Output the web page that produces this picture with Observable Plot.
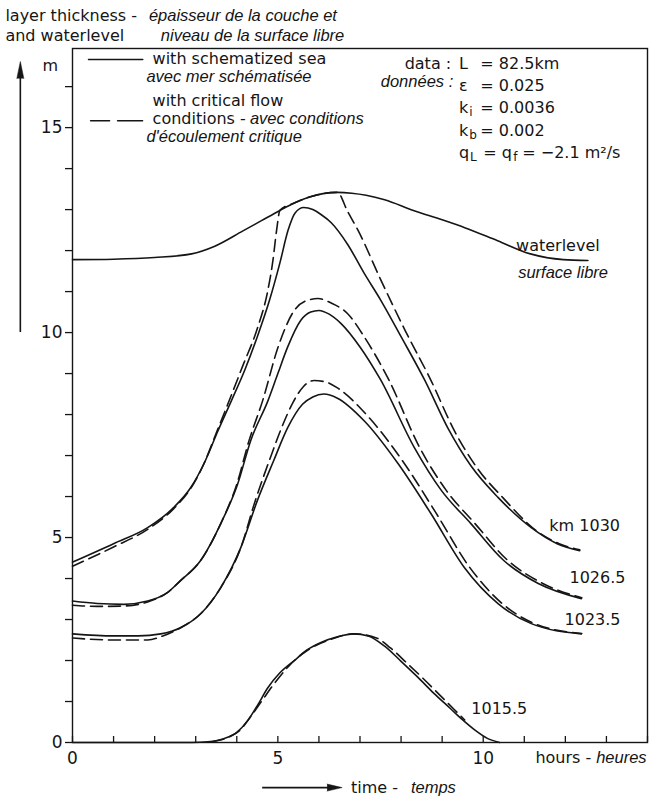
<!DOCTYPE html>
<html>
<head>
<meta charset="utf-8">
<script src="https://cdn.jsdelivr.net/npm/d3@7"></script>
<script src="https://cdn.jsdelivr.net/npm/@observablehq/plot@0.6"></script>
<style>
  html, body { margin: 0; padding: 0; background: #fff; }
  #chart svg { display: block; }
</style>
</head>
<body>
<div id="chart"></div>
<script>
// ---- data (hours, metres) ----
const yTicks = d3.range(0, 17);
const yLabelTicks = [0, 5, 10, 15];
const hourTicks = d3.range(0, 15);
const xLabelTicks = [0, 5, 10];

const wlHours = [0, 1.0, 2.0, 2.9, 3.45, 4.15, 4.6, 5.05, 5.4, 5.75, 6.1, 6.45, 6.8, 7.15, 7.6, 8.3, 9.0, 9.55, 10.35, 11.15, 11.95, 12.55];
const wlLevel = [11.78, 11.79, 11.83, 11.92, 12.1, 12.48, 12.73, 12.98, 13.16, 13.3, 13.39, 13.42, 13.4, 13.35, 13.24, 12.98, 12.75, 12.56, 12.24, 11.92, 11.78, 11.76];

const s1030Hours = [0, 1.0, 1.83, 2.46, 2.88, 3.2, 3.54, 3.87, 4.2, 4.5, 4.8, 5.05, 5.25, 5.42, 5.63, 5.85, 6.05, 6.3, 6.7, 7.1, 7.5, 8.0, 8.57, 9.15, 9.7, 10.36, 11.17, 11.8, 12.35];
const s1030Depth = [4.4, 4.85, 5.24, 5.73, 6.22, 6.8, 7.6, 8.34, 9.1, 9.9, 10.8, 11.7, 12.5, 12.92, 13.05, 13.0, 12.88, 12.68, 12.15, 11.45, 10.8, 9.9, 8.85, 7.65, 6.75, 5.98, 5.24, 4.85, 4.68];
const d1030Hours = [0, 1.0, 1.83, 2.46, 2.88, 3.2, 3.5, 3.78, 4.15, 4.5, 4.75, 4.88, 4.97, 5.05, 5.4, 5.75, 6.1, 6.45, 6.7, 6.95, 7.5, 8.1, 8.73, 9.3, 9.85, 10.5, 11.25, 11.85, 12.35];
const d1030Depth = [4.3, 4.77, 5.2, 5.7, 6.2, 6.8, 7.55, 8.25, 9.2, 10.1, 11.0, 11.76, 12.5, 12.98, 13.16, 13.3, 13.39, 13.42, 12.95, 12.5, 11.3, 10.05, 8.83, 7.6, 6.7, 5.95, 5.2, 4.85, 4.7];

const s10265Hours = [0, 0.6, 1.25, 1.83, 2.3, 2.63, 3.12, 3.61, 4.02, 4.34, 4.76, 5.0, 5.24, 5.56, 5.8, 6.0, 6.25, 6.54, 7.0, 7.5, 8.32, 8.98, 9.7, 10.5, 11.34, 12.39];
const s10265Depth = [3.45, 3.39, 3.37, 3.45, 3.65, 3.95, 4.44, 5.34, 6.3, 7.37, 8.34, 9.0, 9.65, 10.3, 10.5, 10.54, 10.45, 10.22, 9.65, 8.85, 7.2, 6.15, 5.34, 4.44, 3.88, 3.51];
const d10265Hours = [0, 0.6, 1.25, 1.83, 2.3, 2.63, 3.12, 3.61, 4.0, 4.3, 4.63, 5.0, 5.4, 5.7, 5.98, 6.3, 6.7, 7.1, 7.7, 8.45, 9.1, 9.8, 10.6, 11.45, 12.4];
const d10265Depth = [3.35, 3.32, 3.33, 3.43, 3.65, 3.95, 4.44, 5.34, 6.3, 7.37, 8.34, 9.63, 10.54, 10.78, 10.83, 10.72, 10.46, 9.9, 8.85, 7.2, 6.15, 5.34, 4.44, 3.88, 3.53];

const s10235Hours = [0, 1.0, 1.6, 2.15, 2.63, 3.12, 3.61, 4.1, 4.5, 4.9, 5.24, 5.6, 5.85, 6.12, 6.45, 7.1, 7.93, 8.73, 9.54, 10.36, 11.17, 12.39];
const s10235Depth = [2.65, 2.6, 2.6, 2.65, 2.8, 3.14, 3.78, 4.76, 5.9, 6.88, 7.68, 8.25, 8.43, 8.5, 8.4, 7.85, 6.8, 5.58, 4.27, 3.39, 2.9, 2.65];
const d10235Hours = [0, 1.0, 1.83, 2.2, 2.63, 3.12, 3.61, 4.1, 4.45, 4.8, 5.1, 5.37, 5.62, 5.88, 6.15, 6.45, 7.2, 8.05, 8.85, 9.65, 10.45, 11.25, 12.4];
const d10235Depth = [2.55, 2.5, 2.5, 2.6, 2.8, 3.14, 3.78, 4.76, 5.9, 6.9, 7.7, 8.3, 8.68, 8.83, 8.8, 8.65, 7.95, 6.85, 5.6, 4.3, 3.4, 2.9, 2.66];

const s10155Hours = [0, 2.9, 3.3, 3.7, 4.0, 4.27, 4.5, 4.76, 5.05, 5.4, 5.7, 6.05, 6.45, 6.85, 7.2, 7.6, 8.0, 8.4, 8.8, 9.2, 9.5, 9.8, 10.1, 10.4];
const s10155Depth = [0, 0, 0.02, 0.1, 0.25, 0.54, 0.9, 1.34, 1.7, 2.0, 2.25, 2.44, 2.58, 2.65, 2.6, 2.35, 1.98, 1.6, 1.2, 0.83, 0.55, 0.3, 0.1, 0];
const d10155Hours = [3.4, 3.8, 4.1, 4.3, 4.6, 4.9, 5.3, 5.8, 6.3, 6.85, 7.4, 7.75, 8.15, 8.55, 8.95, 9.3, 9.55];
const d10155Depth = [0.02, 0.13, 0.32, 0.58, 1.0, 1.42, 1.9, 2.3, 2.52, 2.65, 2.55, 2.3, 1.93, 1.55, 1.15, 0.8, 0.55];

const legendSolidHours = [0.39, 1.71];
const legendDashedHours = [0.44, 1.71];

// ---- build tables ----
function rows(name, hs, ms) { return hs.map((h, i) => ({series: name, hour: h, value: ms[i]})); }
const solidRows = [
  ...rows("waterlevel", wlHours, wlLevel),
  ...rows("1030", s1030Hours, s1030Depth),
  ...rows("1026.5", s10265Hours, s10265Depth),
  ...rows("1023.5", s10235Hours, s10235Depth),
  ...rows("1015.5", s10155Hours, s10155Depth)
];
const dashedRows = [
  ...rows("1030", d1030Hours, d1030Depth),
  ...rows("1026.5", d10265Hours, d10265Depth),
  ...rows("1023.5", d10235Hours, d10235Depth),
  ...rows("1015.5", d10155Hours, d10155Depth)
];

const ink = "#151515";
const FS = 16;
const ITALIC = "Liberation Sans";
const txt = (s, x, y, o = {}) => Plot.text([s], {x, y, text: d => d, textAnchor: "start", fill: ink, fontSize: FS, ...o});
const itx = (s, x, y, o = {}) => txt(s, x, y, {fontStyle: "italic", fontFamily: ITALIC, fontSize: 16.5, ...o});
const sub = (s, x, y) => txt(s, x, y, {fontSize: 12});

const chart = Plot.plot({
  width: 650,
  height: 796,
  marginLeft: 72,
  marginRight: 3,
  marginTop: 48,
  marginBottom: 54,
  x: {domain: [0, 14]},
  y: {domain: [0, 16.93]},
  style: {fontFamily: "DejaVu Sans", fontSize: "16px", color: ink, background: "#fff", overflow: "visible"},
  marks: [
    Plot.frame({stroke: ink, strokeWidth: 1.4}),
    Plot.axisY({ticks: yTicks, tickFormat: d => yLabelTicks.includes(d) ? String(d) : "", tickSize: 7, tickPadding: 3, label: null, fontSize: 17, strokeWidth: 1.3}),
    Plot.axisX({ticks: xLabelTicks, tickSize: 0, tickPadding: 9, label: null, fontSize: 17}),
    Plot.tickX(hourTicks, {x: d => d, insetTop: 688, stroke: ink, strokeWidth: 1.3}),
    Plot.line(solidRows, {x: "hour", y: "value", z: "series", curve: "monotone-x", stroke: ink, strokeWidth: 1.6}),
    Plot.line(dashedRows, {x: "hour", y: "value", z: "series", curve: "monotone-x", stroke: ink, strokeWidth: 1.6, strokeDasharray: "12,6"}),
    // legend
    Plot.line(legendSolidHours, {x: d => d, y: 16.66, stroke: ink, strokeWidth: 1.5}),
    Plot.line(legendDashedHours, {x: d => d, y: 15.17, stroke: ink, strokeWidth: 1.5, strokeDasharray: "19,8,25"}),
    txt("with schematized sea", 1.95, 16.68),
    itx("avec mer schématisée", 1.80, 16.24),
    txt("with critical flow", 1.95, 15.66),
    txt("conditions -", 1.95, 15.22),
    itx("avec conditions", 4.32, 15.22),
    itx("d'écoulement critique", 1.80, 14.78),
    // title
    txt("layer thickness -", -1.634, 17.73),
    itx("épaisseur de la couche et", 1.86, 17.73),
    txt("and waterlevel", -1.634, 17.24),
    itx("niveau de la surface libre", 2.15, 17.24),
    txt("m", -0.54, 16.51, {textAnchor: "middle"}),
    Plot.ruleX([-1.27], {y1: 10.0, y2: 16.25, stroke: ink, strokeWidth: 1.6}),
    Plot.vector([-1.27], {x: d => d, y: 16.2, length: 17, rotate: 0, shape: "spike", r: 3.5, anchor: "start", fill: ink, stroke: ink, strokeWidth: 0.5}),
    // data box
    txt("data :", 9.22, 16.56, {textAnchor: "end"}),
    itx("données :", 9.27, 16.12, {textAnchor: "end"}),
    txt("L", 9.41, 16.56),
    txt("= 82.5km", 9.93, 16.56),
    txt("ε", 9.41, 16.02),
    txt("= 0.025", 9.93, 16.02),
    txt("k", 9.41, 15.49),
    sub("i", 9.66, 15.37),
    txt("= 0.0036", 9.93, 15.49),
    txt("k", 9.41, 14.93),
    sub("b", 9.66, 14.81),
    txt("= 0.002", 9.93, 14.93),
    txt("q", 9.41, 14.39),
    sub("L", 9.68, 14.27),
    txt("= q", 10.0, 14.39),
    sub("f", 10.73, 14.27),
    txt("= −2.1 m²/s", 10.95, 14.39),
    // curve labels
    txt("waterlevel", 10.8, 12.12),
    itx("surface libre", 10.85, 11.46),
    txt("km 1030", 11.61, 5.29),
    txt("1026.5", 12.1, 4.02),
    txt("1023.5", 11.98, 2.98),
    txt("1015.5", 9.71, 0.83),
    // x axis title
    txt("hours -", 12.63, -0.37, {textAnchor: "end"}),
    itx("heures", 12.75, -0.37),
    Plot.ruleY([-1.1], {x1: 4.63, x2: 6.3, stroke: ink, strokeWidth: 1.6}),
    Plot.vector([6.2], {x: d => d, y: -1.1, length: 15, rotate: 90, shape: "spike", r: 3.5, anchor: "start", fill: ink, stroke: ink, strokeWidth: 0.5}),
    txt("time -", 6.78, -1.1),
    itx("temps", 8.24, -1.1)
  ]
});
document.getElementById("chart").appendChild(chart);
</script>
</body>
</html>
